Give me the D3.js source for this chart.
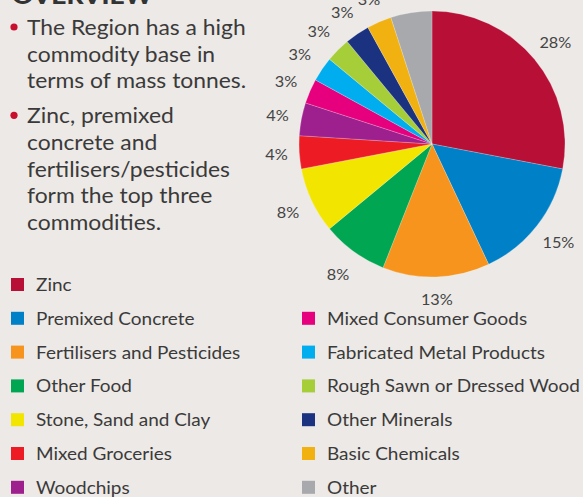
<!DOCTYPE html>
<html>
<head>
<meta charset="utf-8">
<script src="https://cdn.jsdelivr.net/npm/d3@7"></script>
<style>
  html, body { margin: 0; padding: 0; background: #ece9e6; }
  svg { display: block; }
</style>
</head>
<body>
<svg id="chart" width="583" height="497"></svg>
<script>
// Commodity share by mass tonnes
const categories = [
  "Zinc", "Premixed Concrete", "Fertilisers and Pesticides", "Other Food",
  "Stone, Sand and Clay", "Mixed Groceries", "Woodchips", "Mixed Consumer Goods",
  "Fabricated Metal Products", "Rough Sawn or Dressed Wood", "Other Minerals",
  "Basic Chemicals", "Other"
];
const shares = [28, 15, 13, 8, 8, 4, 4, 3, 3, 3, 3, 3, 5];
const colors = [
  "#b70f36", "#0080c6", "#f7941d", "#00a651", "#f2e500", "#ed1c24", "#9e1f8e",
  "#e6007e", "#00aeef", "#a6ce39", "#1b3281", "#f0b111", "#a7a9ac"
];
const bullets = [
  ["The Region has a high", "commodity base in", "terms of mass tonnes."],
  ["Zinc, premixed", "concrete and", "fertilisers/pesticides", "form the top three", "commodities."]
];
const heading = "OVERVIEW";

const svg = d3.select("#chart");
const textColor = "#3b3a3a";
const font = "Lato, sans-serif";

// text drawn slightly widened for a broader geometric look
function wideText(parent, x, y, str, size, sx, opts = {}) {
  const t = parent.append("text")
    .attr("transform", `translate(${x},${y}) scale(${sx},1)`)
    .attr("font-family", font)
    .attr("font-size", size)
    .attr("fill", opts.fill || textColor)
    .text(str);
  if (opts.weight) t.attr("font-weight", opts.weight);
  if (opts.baseline) t.attr("dominant-baseline", opts.baseline);
  if (opts.anchor) t.attr("text-anchor", opts.anchor);
  return t;
}

// heading (runs off the top edge)
wideText(svg, 12, 3.5, heading, 22, 1.2, { weight: 900, fill: "#333" });

// bullet points
const lineH = 26.6;
let y0 = 35;
bullets.forEach(lines => {
  svg.append("circle")
    .attr("cx", 14).attr("cy", y0 - 8)
    .attr("r", 3.6)
    .attr("fill", "#c8102e");
  lines.forEach((ln, li) => {
    wideText(svg, 27, y0 + li * lineH, ln, 22, 1.04);
  });
  y0 += lines.length * lineH + 8.5;
});

// pie
const cx = 432, cy = 144, r = 133;
const color = d3.scaleOrdinal().domain(categories).range(colors);
const pie = d3.pie().value(d => d.v).sort(null);
const data = categories.map((c, i) => ({ c, v: shares[i] }));
const arcs = pie(data);
const arc = d3.arc().innerRadius(0).outerRadius(r);

const g = svg.append("g").attr("transform", `translate(${cx},${cy})`);
g.selectAll("path.slice")
  .data(arcs)
  .join("path")
  .attr("class", "slice")
  .attr("d", arc)
  .attr("fill", d => color(d.data.c))
  .attr("stroke", "rgba(255,255,255,0.35)")
  .attr("stroke-width", 0.6);

// percentage labels: keep a gap between the rim and the label box
const pad = 8, halfW = 14, halfH = 13;
arcs.forEach(d => {
  const a = (d.startAngle + d.endAngle) / 2;
  const s = Math.sin(a), c = -Math.cos(a);
  const dist = r + pad + Math.abs(s) * halfW + Math.abs(c) * halfH;
  wideText(g, s * dist, c * dist, d.data.v + "%", 15.5, 1.05,
    { anchor: "middle", baseline: "central", fill: "#444" });
});

// legend: two columns
const leftCol = categories.slice(0, 7);
const rightCol = categories.slice(7);
const rowY = i => 284.5 + i * 33.8;
function legendColumn(items, x, startRow) {
  const lg = svg.append("g");
  items.forEach((c, i) => {
    const y = rowY(i + startRow);
    lg.append("rect")
      .attr("x", x).attr("y", y - 6.5)
      .attr("width", 13).attr("height", 13)
      .attr("fill", color(c));
    wideText(lg, x + 25, y, c, 16.5, 1.15, { baseline: "central" });
  });
}
legendColumn(leftCol, 11, 0);
legendColumn(rightCol, 302, 1);
</script>
</body>
</html>
